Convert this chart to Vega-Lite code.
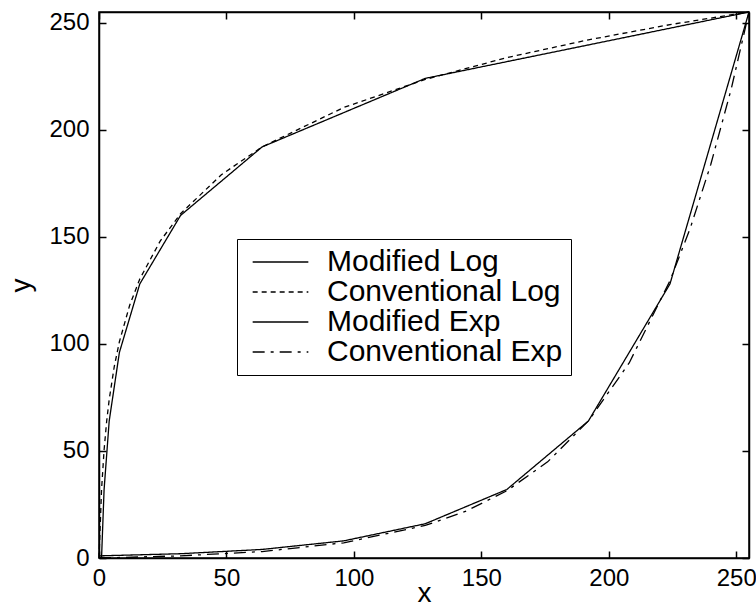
{
  "$schema": "https://vega.github.io/schema/vega-lite/v6.json",
  "width": 650,
  "height": 546,
  "autosize": {"type": "none"},
  "padding": {"left": 99, "top": 12, "right": 7, "bottom": 46},
  "background": "white",
  "config": {
    "font": "Liberation Sans",
    "view": {"stroke": "black", "strokeWidth": 1.5},
    "axis": {
      "labelFont": "Liberation Sans",
      "labelFontSize": 24,
      "labelColor": "black",
      "titleFont": "Liberation Sans",
      "titleFontSize": 28,
      "titleFontWeight": "normal",
      "titleColor": "black",
      "domainColor": "black",
      "domainWidth": 1.5,
      "tickColor": "black",
      "tickWidth": 1.5,
      "tickSize": -7,
      "grid": false,
      "labelFlush": false,
      "labelOverlap": false
    }
  },
  "data": {
    "values": [
      {"series": "Modified Log", "x": 0, "y": 0},
      {"series": "Modified Log", "x": 1, "y": 0},
      {"series": "Modified Log", "x": 2, "y": 32},
      {"series": "Modified Log", "x": 4, "y": 64},
      {"series": "Modified Log", "x": 8, "y": 96},
      {"series": "Modified Log", "x": 16, "y": 128},
      {"series": "Modified Log", "x": 32, "y": 160},
      {"series": "Modified Log", "x": 64, "y": 192},
      {"series": "Modified Log", "x": 128, "y": 224},
      {"series": "Modified Log", "x": 255, "y": 255},
      {"series": "Conventional Log", "x": 0, "y": 0},
      {"series": "Conventional Log", "x": 1, "y": 31.9},
      {"series": "Conventional Log", "x": 2, "y": 50.5},
      {"series": "Conventional Log", "x": 3, "y": 63.8},
      {"series": "Conventional Log", "x": 4, "y": 74.0},
      {"series": "Conventional Log", "x": 6, "y": 89.5},
      {"series": "Conventional Log", "x": 8, "y": 101.0},
      {"series": "Conventional Log", "x": 12, "y": 117.9},
      {"series": "Conventional Log", "x": 16, "y": 130.3},
      {"series": "Conventional Log", "x": 24, "y": 148.0},
      {"series": "Conventional Log", "x": 32, "y": 160.8},
      {"series": "Conventional Log", "x": 48, "y": 179.0},
      {"series": "Conventional Log", "x": 64, "y": 192.0},
      {"series": "Conventional Log", "x": 96, "y": 210.4},
      {"series": "Conventional Log", "x": 128, "y": 223.5},
      {"series": "Conventional Log", "x": 160, "y": 233.7},
      {"series": "Conventional Log", "x": 192, "y": 242.0},
      {"series": "Conventional Log", "x": 224, "y": 249.1},
      {"series": "Conventional Log", "x": 255, "y": 255},
      {"series": "Modified Exp", "x": 0, "y": 1},
      {"series": "Modified Exp", "x": 32, "y": 2},
      {"series": "Modified Exp", "x": 64, "y": 4},
      {"series": "Modified Exp", "x": 96, "y": 8},
      {"series": "Modified Exp", "x": 128, "y": 16},
      {"series": "Modified Exp", "x": 160, "y": 32},
      {"series": "Modified Exp", "x": 192, "y": 64},
      {"series": "Modified Exp", "x": 224, "y": 128},
      {"series": "Modified Exp", "x": 255, "y": 255},
      {"series": "Conventional Exp", "x": 0, "y": 0},
      {"series": "Conventional Exp", "x": 32, "y": 1.0},
      {"series": "Conventional Exp", "x": 64, "y": 3.0},
      {"series": "Conventional Exp", "x": 96, "y": 7.1},
      {"series": "Conventional Exp", "x": 128, "y": 15.2},
      {"series": "Conventional Exp", "x": 144, "y": 21.9},
      {"series": "Conventional Exp", "x": 160, "y": 31.4},
      {"series": "Conventional Exp", "x": 176, "y": 44.9},
      {"series": "Conventional Exp", "x": 192, "y": 64.0},
      {"series": "Conventional Exp", "x": 208, "y": 91.1},
      {"series": "Conventional Exp", "x": 224, "y": 129.5},
      {"series": "Conventional Exp", "x": 232, "y": 154.2},
      {"series": "Conventional Exp", "x": 240, "y": 183.8},
      {"series": "Conventional Exp", "x": 248, "y": 218.9},
      {"series": "Conventional Exp", "x": 255, "y": 255}
    ]
  },
  "layer": [
    {
      "mark": {"type": "line", "stroke": "black", "strokeWidth": 1.3},
      "encoding": {
        "x": {
          "field": "x", "type": "quantitative",
          "scale": {"domain": [0, 255], "nice": false, "zero": false},
          "axis": {"orient": "bottom", "values": [0, 50, 100, 150, 200, 250], "title": "x", "labelPadding": 15, "titlePadding": -11}
        },
        "y": {
          "field": "y", "type": "quantitative",
          "scale": {"domain": [0, 255], "nice": false, "zero": false},
          "axis": {"orient": "left", "values": [0, 50, 100, 150, 200, 250], "title": "y", "labelPadding": 17, "titlePadding": 13}
        },
        "strokeDash": {
          "field": "series", "type": "nominal",
          "scale": {
            "domain": ["Modified Log", "Conventional Log", "Modified Exp", "Conventional Exp"],
            "range": [[1, 0], [5, 4], [1, 0], [12, 6, 3, 6]]
          },
          "legend": {
            "orient": "none",
            "legendX": 138,
            "legendY": 227,
            "title": null,
            "strokeColor": "black",
            "fillColor": "white",
            "padding": 8,
            "clipHeight": 30,
            "symbolType": "stroke",
            "symbolSize": 3100,
            "symbolOffset": 7,
            "symbolStrokeColor": "black",
            "symbolStrokeWidth": 1.3,
            "labelFont": "Liberation Sans",
            "labelFontSize": 30,
            "labelColor": "black",
            "labelOffset": 18,
            "labelLimit": 400,
            "rowPadding": 0
          }
        }
      }
    },
    {
      "mark": {"type": "point", "opacity": 0},
      "encoding": {
        "x": {"field": "x", "type": "quantitative", "axis": {"orient": "top", "values": [0, 50, 100, 150, 200, 250], "labels": false, "title": null}},
        "y": {"field": "y", "type": "quantitative", "axis": {"orient": "right", "values": [0, 50, 100, 150, 200, 250], "labels": false, "title": null}}
      }
    }
  ],
  "resolve": {"axis": {"x": "independent", "y": "independent"}}
}
